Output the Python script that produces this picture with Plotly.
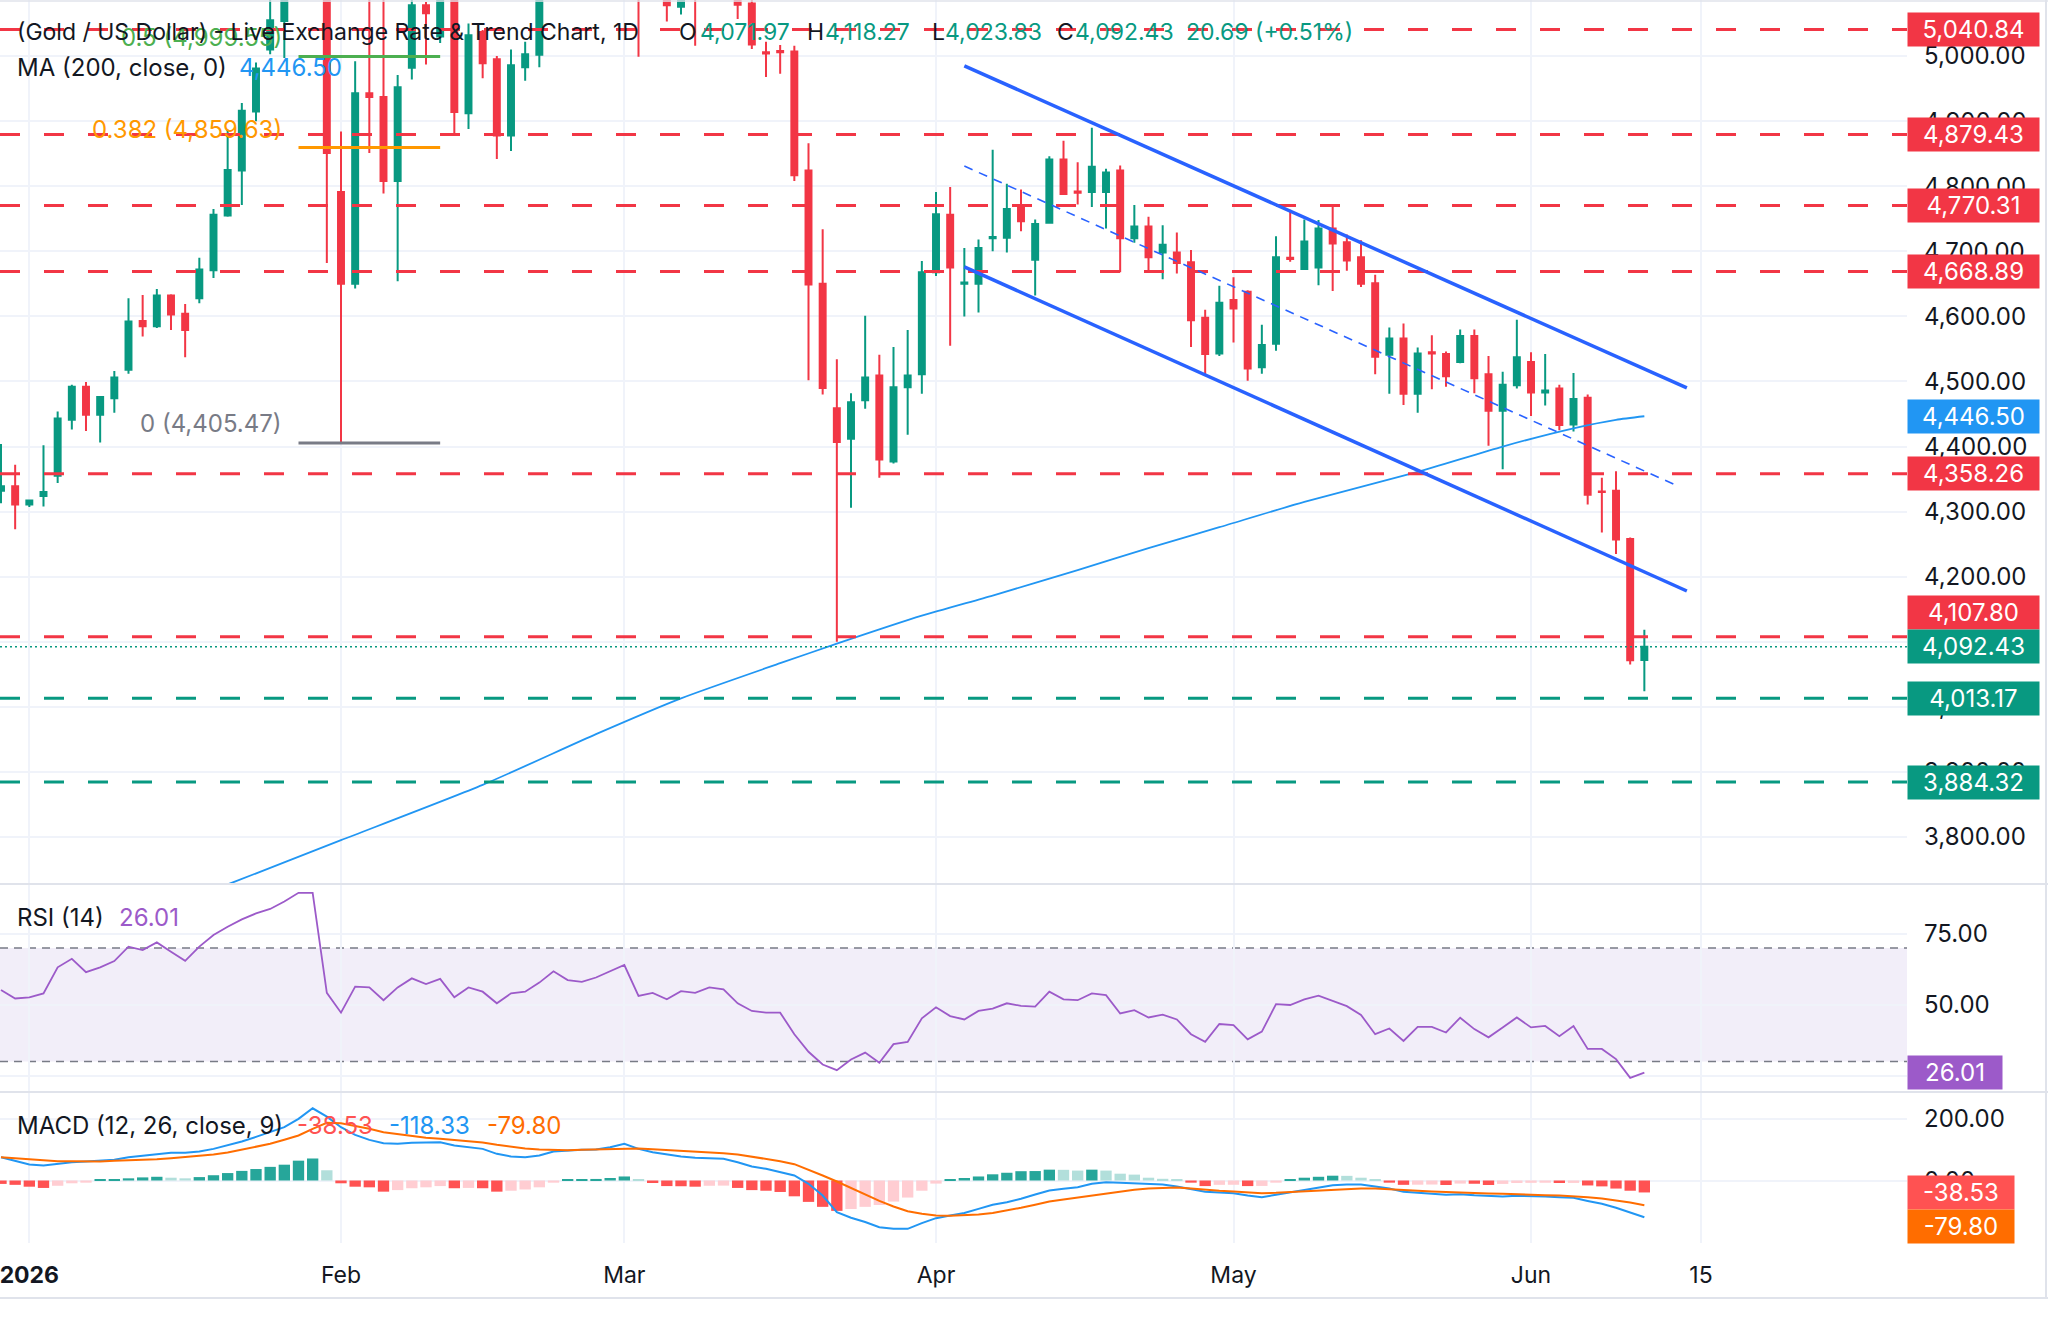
import plotly.graph_objects as go

W, H = 2048, 1320
PLOT_R = 1907          # right edge of the plot area (px)
FONT = "Inter"
TXT = "#131722"
GREEN = "#089981"
RED = "#f23645"
BLUE_MA = "#2196f3"
CHAN = "#2962ff"
RSI_C = "#9c5ac9"
GRID = "#f0f3fa"
SEP = "#e0e3eb"
LEG_FS = 24
HEAD_FS = 23
AX_FS = 24

# ---------------- data (bar index 0 = 30 Dec 2025 ... 116 = 11 Jun 2026) ----------------
opens = [4332, 4339, 4311, 4324, 4355, 4441, 4492, 4449, 4474, 4518,
         4593, 4585, 4632, 4604, 4628, 4671, 4755, 4824, 4915, 5010,
         5054, 5180, 5310, 5400, 4791, 4650, 4943, 4937, 4808, 4982,
         5078, 5030, 5110, 4912, 5037, 4995, 4878, 4983, 5002, 5100,
         5160, 5130, 5150, 5190, 5270, 5390, 5150, 5170, 5076, 5120,
         5105, 5150, 5140, 5081, 5006, 5008, 5007, 4824, 4650, 4459,
         4412, 4471, 4509, 4377, 4491, 4511, 4668, 4756, 4650, 4650,
         4720, 4721, 4771, 4687, 4744, 4841, 4792, 4791, 4791, 4824,
         4720, 4738, 4698, 4698, 4683, 4598, 4543, 4625, 4638, 4522,
         4558, 4690, 4673, 4675, 4735, 4714, 4691, 4651, 4541, 4566,
         4481, 4545, 4542, 4530, 4570, 4511, 4455, 4494, 4530, 4483,
         4489, 4434, 4475, 4331, 4332, 4258, 4071.97]
highs = [4404, 4372, 4318, 4402, 4454, 4495, 4499, 4477, 4516, 4628,
         4633, 4642, 4634, 4619, 4690, 4765, 4887, 4928, 4990, 5100,
         5190, 5330, 5595, 5450, 4884, 4992, 5095, 5095, 4971, 5090,
         5083, 5130, 5120, 5050, 5040, 5000, 5010, 5022, 5120, 5180,
         5250, 5200, 5230, 5290, 5420, 5420, 5200, 5190, 5140, 5160,
         5180, 5190, 5160, 5100, 5022, 5017, 5016, 4866, 4734, 4534,
         4482, 4601, 4541, 4553, 4579, 4685, 4791, 4799, 4705, 4718,
         4856, 4804, 4795, 4749, 4846, 4870, 4837, 4890, 4827, 4832,
         4771, 4753, 4740, 4729, 4702, 4610, 4647, 4660, 4640, 4587,
         4723, 4764, 4749, 4748, 4768, 4726, 4717, 4664, 4583, 4589,
         4552, 4571, 4546, 4580, 4580, 4539, 4515, 4595, 4545, 4542,
         4495, 4513, 4480, 4352, 4362, 4260, 4118.27]
lows = [4313, 4273, 4307, 4308, 4344, 4426, 4424, 4406, 4452, 4512,
        4569, 4582, 4579, 4537, 4620, 4659, 4753, 4771, 4900, 5003,
        4997, 5160, 5250, 4682, 4405, 4643, 4851, 4789, 4654, 4964,
        4987, 5020, 4881, 4888, 4966, 4842, 4854, 4962, 4983, 5090,
        5120, 5100, 5120, 5170, 5250, 4999, 5095, 5053, 5064, 5016,
        5095, 5110, 5057, 5011, 4968, 4973, 4808, 4502, 4480, 4100,
        4306, 4458, 4352, 4374, 4418, 4481, 4662, 4555, 4600, 4606,
        4700, 4698, 4731, 4632, 4743, 4787, 4772, 4768, 4735, 4668,
        4713, 4668, 4657, 4666, 4553, 4510, 4539, 4560, 4501, 4512,
        4547, 4684, 4672, 4648, 4639, 4670, 4645, 4511, 4481, 4464,
        4452, 4488, 4492, 4528, 4482, 4401, 4365, 4489, 4447, 4463,
        4425, 4423, 4311, 4268, 4235, 4065, 4023.83]
closes = [4339, 4311, 4317, 4330, 4443, 4492, 4449, 4476, 4506, 4592,
          4585, 4632, 4603, 4579, 4672, 4756, 4825, 4916, 4981, 5055,
          5180, 5310, 5400, 4851, 4650, 4943, 4937, 4808, 4952, 5078,
          5066, 5110, 4914, 5032, 4989, 4878, 4986, 5003, 5100, 5160,
          5130, 5150, 5190, 5270, 5390, 5150, 5170, 5078, 5120, 5105,
          5150, 5140, 5079, 5018, 5004, 5006, 4817, 4649, 4490, 4407,
          4468, 4506, 4380, 4491, 4509, 4668, 4757, 4675, 4652, 4705,
          4722, 4765, 4746, 4742, 4841, 4788, 4790, 4830, 4821, 4720,
          4738, 4691, 4710, 4682, 4594, 4542, 4621, 4612, 4520, 4556,
          4691, 4688, 4715, 4735, 4712, 4686, 4650, 4538, 4566, 4481,
          4543, 4543, 4508, 4570, 4505, 4455, 4495, 4537, 4483, 4486,
          4433, 4473, 4326, 4330, 4257, 4071.74, 4092.43]

# 200-day moving average, read at selected bars
ma_idx = [0, 8, 16, 24, 34, 42, 48, 55, 59, 65, 70, 76, 81, 86, 92, 100, 106, 111, 114, 116]
ma_val = [3590, 3660, 3727, 3795, 3880, 3958, 4013, 4067, 4097, 4140, 4171, 4210, 4244,
          4276, 4315, 4361, 4400, 4428, 4441, 4446.5]

rsi = [55.2, 52.2, 52.6, 54, 63.2, 66.2, 61.5, 63.2, 65.4, 70.5,
       69.3, 72, 68.7, 65.5, 70.5, 74.6, 77.5, 80.1, 82.2, 83.8,
       86.4, 89.5, 89.5, 54.2, 47.2, 56.4, 56.1, 51.6, 56.1, 59.3,
       57.3, 59.1, 52.6, 56.1, 54.6, 50.5, 54, 54.6, 57.8, 61.8,
       58.7, 58.1, 59.6, 61.9, 64, 53.1, 54.2, 51.9, 54.8, 54.2,
       56.1, 55.4, 50.5, 47.8, 47.2, 47.2, 39.6, 33.4, 28.9, 26.9,
       30.7, 33.1, 29.5, 36.1, 36.9, 45.2, 49.1, 46, 44.8, 47.8,
       48.6, 50.5, 49.6, 49.3, 54.6, 51.9, 51.6, 54, 53.4, 46.9,
       48.1, 45.5, 46.5, 44.8, 39.6, 36.9, 43.2, 42.8, 37.8, 40.5,
       50.2, 49.9, 51.9, 53.2, 51.4, 49.5, 46.4, 39.6, 41.6, 37.2,
       42.2, 42.2, 40.2, 45.4, 41.4, 38.5, 42, 45.5, 42, 42.5,
       38.9, 42.5, 34.4, 34.4, 30.8, 24.2, 26.01]

macd = [75.3, 62.4, 51.6, 48.4, 53.8, 59.1, 61.3, 64.5, 66.7, 75.3,
        79.6, 86, 89.2, 89.2, 93.5, 102, 113, 126, 140.9, 156,
        172, 199, 233, 206, 172, 147.3, 131, 120.4, 118.3, 121.5,
        121.5, 123.7, 112.9, 107.5, 102, 86, 77.4, 75.3, 80.6, 93.5,
        96.8, 98.9, 100, 107.5, 118.3, 102, 91.4, 83.9, 77.4, 73.1,
        72, 69.9, 59.1, 45.2, 37.6, 26.9, 16.1, -10.8, -48.4, -102,
        -120, -134, -150.5, -156, -156, -137.6, -121.5, -113, -105, -91.4,
        -78.5, -70, -59, -45, -32.3, -26.9, -21.5, -10.8, -5.4, -7.5,
        -9.7, -10.8, -12.9, -19.4, -26.9, -36.6, -38.7, -40.9, -48.4, -53.8,
        -46.2, -38.7, -30.1, -22.6, -15.1, -12.9, -12.9, -19.4, -25.8, -36.6,
        -40.9, -43, -46.2, -44.1, -47.3, -50.5, -51.6, -49.5, -49.5, -51.6,
        -53.8, -56, -66, -75, -88, -103, -118.33]
signal = [75.3, 72, 67.7, 64.5, 62.4, 61.8, 61.3, 61.3, 63.4, 64.5,
          66.7, 68.8, 72, 75.3, 78.5, 83.9, 90.3, 98.9, 107.5, 118.3,
          131.2, 145.2, 166.7, 186, 184.9, 176.3, 166.7, 155.9, 149.5, 141.9,
          137.6, 134.4, 131.2, 126.9, 122.6, 115, 108.6, 103.2, 100, 97.8,
          97.8, 98.9, 100, 101.1, 103.2, 103.2, 101.1, 98.9, 95.7, 92.5,
          90.3, 88.2, 83.9, 77.4, 71, 62.4, 52.7, 35.5, 16.1, -3.2,
          -24.7, -46.2, -65.6, -83.9, -98.9, -107.5, -112.9, -114, -113, -110,
          -105, -97, -88, -78, -67.7, -61.3, -54.8, -47.3, -40.9, -34.4,
          -30.1, -25.8, -23.7, -22.6, -25.8, -30.1, -33.3, -35.5, -38.7, -40.9,
          -39.8, -37.6, -34.4, -32.3, -30.1, -26.9, -25.8, -25.8, -29, -32.3,
          -33.3, -35.5, -37.6, -38.7, -40.9, -41.9, -43, -45.2, -46.2, -47.3,
          -48.4, -50, -54, -58, -64, -71, -79.8]
hist = [-11, -14, -20, -24, -17, -9, -7, 2, 2.5, 7,
        10, 12, 9, 7, 11, 17, 24, 31, 37, 44,
        51, 64, 71, 33, -9, -20, -22, -36, -31, -25,
        -22, -18, -25, -24, -25, -36, -33, -29, -22, -7,
        4, 4.5, 5, 8, 13, 3, -8, -18, -18.5, -20,
        -17, -16.5, -24, -31, -33, -37, -51, -69, -85, -98,
        -92, -85, -79, -68, -55, -33, -10, 4, 8, 13,
        20, 25, 30, 30.5, 35, 34.5, 32, 35, 32, 22,
        19, 9, 5.5, 2, -7, -18, -14, -13.8, -18, -17.5,
        -7, 2, 9, 12, 15.5, 15, 9, 2, -7, -14,
        -13.5, -13, -14.5, -10, -10.5, -14.5, -11, -8, -7.5, -7.2,
        -8, -7.8, -16, -19, -26, -33, -38.53]

# horizontal support / resistance levels
res_levels = [5040.84, 4879.43, 4770.31, 4668.89, 4358.26, 4107.80]
sup_levels = [4013.17, 3884.32]
ma_last = 4446.50
last_close = 4092.43

# Fibonacci levels (level name, price) drawn between two bars
fib_names = ["0.5", "0.382", "0"]
fib_prices = [4999.55, 4859.63, 4405.47]
fib_span = [21, 31]

# descending channel (bar index, price) end points
chan_upper = [(68, 4985), (119, 4490)]
chan_lower = [(68, 4676), (119, 4178)]
chan_mid = [(68, 4831), (118.3, 4340)]

tick_idx = [2, 24, 44, 66, 87, 108, 120]
tick_txt = ["<b>2026</b>", "Feb", "Mar", "Apr", "May", "Jun", "15"]
price_ticks = [3800, 3900, 4000, 4100, 4200, 4300, 4400, 4500, 4600, 4700, 4800, 4900, 5000]

idx = list(range(len(closes)))

# ---------------- geometry helpers ----------------
def pxx(p):
    return p / W

def pyy(p):
    return 1 - p / H

MAIN_TOP, MAIN_BOT = 0, 884
RSI_BOT = 1092
MACD_BOT = 1243
XR = [-0.07, 134.54]

fig = go.Figure()

# candles
fig.add_trace(go.Candlestick(
    x=idx, open=opens, high=highs, low=lows, close=closes,
    increasing=dict(line=dict(color=GREEN, width=2), fillcolor=GREEN),
    decreasing=dict(line=dict(color=RED, width=2), fillcolor=RED),
    whiskerwidth=0, hoverinfo="skip", xaxis="x", yaxis="y"))

# 200 MA
fig.add_trace(go.Scatter(x=ma_idx, y=ma_val, mode="lines",
                         line=dict(color=BLUE_MA, width=1.8, shape="spline", smoothing=0.6),
                         hoverinfo="skip", xaxis="x", yaxis="y"))

# RSI
fig.add_trace(go.Scatter(x=idx, y=rsi, mode="lines", line=dict(color=RSI_C, width=1.8),
                         hoverinfo="skip", xaxis="x2", yaxis="y2"))

# MACD histogram colours by TradingView rule
hcol = []
for i, v in enumerate(hist):
    prev = hist[i - 1] if i > 0 else v
    if v >= 0:
        hcol.append("#26a69a" if v > prev or i == 0 else "#b2dfdb")
    else:
        hcol.append("#ff5252" if v < prev or i == 0 else "#ffcdd2")
fig.add_trace(go.Bar(x=idx, y=hist, marker=dict(color=hcol, line=dict(width=0)), width=0.8,
                     hoverinfo="skip", xaxis="x3", yaxis="y3"))
fig.add_trace(go.Scatter(x=idx, y=macd, mode="lines", line=dict(color="#2196f3", width=2),
                         hoverinfo="skip", xaxis="x3", yaxis="y3"))
fig.add_trace(go.Scatter(x=idx, y=signal, mode="lines", line=dict(color="#ff6d00", width=2),
                         hoverinfo="skip", xaxis="x3", yaxis="y3"))

shapes = []
# RSI band and guide lines
shapes.append(dict(type="rect", xref="paper", x0=0, x1=pxx(PLOT_R), yref="y2", y0=30, y1=70,
                   fillcolor="rgba(126,87,194,0.1)", line=dict(width=0), layer="below"))
for lv in (70, 50, 30):
    shapes.append(dict(type="line", xref="paper", x0=0, x1=pxx(PLOT_R), yref="y2", y0=lv, y1=lv,
                       line=dict(color="#787b86", width=1.5, dash="8px,6px"), layer="below"))
# horizontal levels
for lv in res_levels:
    shapes.append(dict(type="line", xref="paper", x0=0, x1=pxx(PLOT_R), yref="y", y0=lv, y1=lv,
                       line=dict(color=RED, width=3, dash="20px,24px"), layer="above"))
for lv in sup_levels:
    shapes.append(dict(type="line", xref="paper", x0=0, x1=pxx(PLOT_R), yref="y", y0=lv, y1=lv,
                       line=dict(color=GREEN, width=3, dash="20px,24px"), layer="above"))
shapes.append(dict(type="line", xref="paper", x0=0, x1=pxx(PLOT_R), yref="y", y0=last_close, y1=last_close,
                   line=dict(color=GREEN, width=1.5, dash="2px,3px"), layer="above"))
# fib lines
fib_colors = ["#4caf50", "#ff9800", "#787b86"]
for p, c in zip(fib_prices, fib_colors):
    shapes.append(dict(type="line", xref="x", x0=fib_span[0], x1=fib_span[1], yref="y", y0=p, y1=p,
                       line=dict(color=c, width=3), layer="above"))
# channel
for seg, w, d in ((chan_upper, 3.5, "solid"), (chan_lower, 3.5, "solid"), (chan_mid, 1.6, "9px,7px")):
    shapes.append(dict(type="line", xref="x", yref="y", x0=seg[0][0], y0=seg[0][1], x1=seg[1][0], y1=seg[1][1],
                       line=dict(color=CHAN, width=w, dash=d), layer="above"))
# separators / borders
for yy in (MAIN_BOT, RSI_BOT, 1298):
    shapes.append(dict(type="line", xref="paper", yref="paper", x0=0, x1=1, y0=pyy(yy), y1=pyy(yy),
                       line=dict(color=SEP, width=2)))
shapes.append(dict(type="line", xref="paper", yref="paper", x0=0, x1=1, y0=pyy(1), y1=pyy(1),
                   line=dict(color=SEP, width=1.5)))
shapes.append(dict(type="line", xref="paper", yref="paper", x0=pxx(2046), x1=pxx(2046), y0=pyy(1298), y1=1,
                   line=dict(color=SEP, width=2)))

ann = []
XPAD = 3   # annotation inner padding compensation

def txt(x, y, s, color=TXT, size=LEG_FS, anchor="left"):
    ann.append(dict(x=pxx(x - XPAD), y=pyy(y), xref="paper", yref="paper", text=s,
                    showarrow=False, xanchor=anchor, yanchor="middle",
                    font=dict(family=FONT, size=size, color=color)))

# fib labels (under the legend)
fib_shift = [19, 18, 19]
for n, p, c, s in zip(fib_names, fib_prices, fib_colors, fib_shift):
    ann.append(dict(x=pxx(281 + XPAD), y=p, xref="paper", yref="y", text=f"{n} ({p:,.2f})", showarrow=False,
                    xanchor="right", yanchor="middle", yshift=s,
                    font=dict(family=FONT, size=LEG_FS, color=c)))

# legend header
o, h_, l_, c_ = opens[-1], highs[-1], lows[-1], closes[-1]
chg = c_ - closes[-2]
txt(18, 32, "(Gold / US Dollar) - Live Exchange Rate & Trend Chart, 1D", size=HEAD_FS)
txt(680, 32, "O", size=HEAD_FS)
txt(701, 32, f"{o:,.2f}", GREEN, size=HEAD_FS)
txt(808, 32, "H", size=HEAD_FS)
txt(826, 32, f"{h_:,.2f}", GREEN, size=HEAD_FS)
txt(933, 32, "L", size=HEAD_FS)
txt(946, 32, f"{l_:,.2f}", GREEN, size=HEAD_FS)
txt(1058, 32, "C", size=HEAD_FS)
txt(1076, 32, f"{c_:,.2f}", GREEN, size=HEAD_FS)
txt(1187, 32, f"{chg:,.2f} ({chg / closes[-2] * 100:+.2f}%)", GREEN, size=HEAD_FS)
txt(18, 67, "MA (200, close, 0)")
txt(240, 67, f"{ma_last:,.2f}", BLUE_MA)
txt(18, 917, "RSI (14)")
txt(120, 917, f"{rsi[-1]:.2f}", RSI_C)
txt(18, 1125, "MACD (12, 26, close, 9)")
txt(298, 1125, f"{hist[-1]:.2f}", "#ff5252")
txt(390, 1125, f"{macd[-1]:.2f}", "#2196f3")
txt(488, 1125, f"{signal[-1]:.2f}", "#ff6d00")

# price-scale tags
def tag(v, yref, bg, width, yshift=0):
    ann.append(dict(x=pxx(PLOT_R), y=v, xref="paper", yref=yref, text=f"{v:,.2f}",
                    showarrow=False, xanchor="left", yanchor="middle", yshift=yshift,
                    bgcolor=bg, width=width, height=29, borderpad=2, align="center",
                    font=dict(family=FONT, size=AX_FS, color="white")))

for lv in res_levels:
    tag(lv, "y", RED, 127, 24 if lv == 4107.80 else 0)
for lv in sup_levels:
    tag(lv, "y", GREEN, 127)
tag(last_close, "y", GREEN, 127)
tag(ma_last, "y", BLUE_MA, 127)
tag(rsi[-1], "y2", RSI_C, 90)
tag(hist[-1], "y3", "#ff5252", 102)
tag(signal[-1], "y3", "#ff6d00", 102, -21)

xcommon = dict(range=XR, tickvals=tick_idx, showgrid=True, gridcolor=GRID, gridwidth=1.5,
               zeroline=False, showline=False, ticks="", domain=[0, pxx(PLOT_R)])
ycommon = dict(side="right", showgrid=True, gridcolor=GRID, gridwidth=1.5, zeroline=False,
               showline=False, ticks="", ticklabelstandoff=16,
               tickfont=dict(family=FONT, size=AX_FS, color=TXT))

fig.update_layout(
    width=W, height=H, margin=dict(l=0, r=0, t=0, b=0),
    paper_bgcolor="white", plot_bgcolor="white", showlegend=False, hovermode=False,
    boxgap=0.4,
    xaxis=dict(**xcommon, anchor="y", showticklabels=False, rangeslider=dict(visible=False)),
    xaxis2=dict(**xcommon, anchor="y2", matches="x", showticklabels=False),
    xaxis3=dict(**xcommon, anchor="y3", matches="x", showticklabels=True, ticktext=tick_txt,
                ticklabelstandoff=16, ticklabeloverflow="allow",
                tickfont=dict(family=FONT, size=23, color=TXT)),
    yaxis=dict(**ycommon, anchor="x", domain=[pyy(MAIN_BOT), pyy(MAIN_TOP)], range=[3727.7, 5086.2],
               tickvals=price_ticks, ticktext=[f"{v:,.2f}" for v in price_ticks]),
    yaxis2=dict(**ycommon, anchor="x2", domain=[pyy(RSI_BOT), pyy(MAIN_BOT)], range=[19.2, 92.6],
                tickvals=[25, 50, 75], ticktext=["25.00", "50.00", "75.00"]),
    yaxis3=dict(**ycommon, anchor="x3", domain=[pyy(MACD_BOT), pyy(RSI_BOT)], range=[-201.6, 285.5],
                tickvals=[0, 200], ticktext=["0.00", "200.00"]),
    shapes=shapes, annotations=ann,
)

fig.write_html("out.html")
